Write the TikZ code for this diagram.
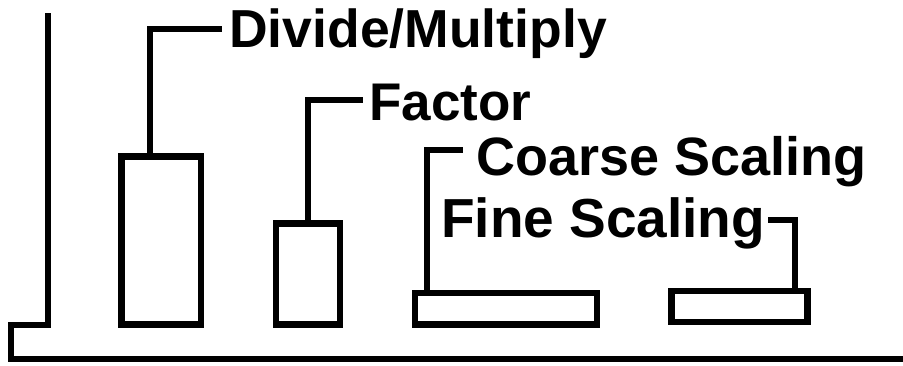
\documentclass[tikz,border=0pt]{standalone}
\usepackage{fontspec}
\setmainfont{Liberation Sans}
\begin{document}
\begin{tikzpicture}[x=1pt,y=-1pt,
  thick line/.style={line width=6.5pt, draw=black},
  bar/.style={rectangle, line width=6.5pt, draw=black, fill=white, inner sep=0pt, outer sep=0pt},
  lab/.style={font=\bfseries\fontsize{53}{60}\selectfont, inner sep=0pt, anchor=base west}]
\useasboundingbox (0,0) rectangle (903,365);
\fill[white] (0,0) rectangle (903,365);
% axes
\coordinate (axtop) at (48,13);
\coordinate (axcorner) at (11,325);
\coordinate (axright) at (903,359);
\draw[thick line] (axtop) |- (axcorner) |- (axright);
% bars
\node[bar, minimum width=79.5pt, minimum height=168pt] (b1) at (161.25,240.5) {};
\node[bar, minimum width=64pt, minimum height=101pt] (b2) at (308,274.2) {};
\node[bar, minimum width=182pt, minimum height=31.5pt] (b3) at (506,308.75) {};
\node[bar, minimum width=135.7pt, minimum height=31pt] (b4) at (739.5,306.5) {};
% labels
\node[lab, font=\bfseries\fontsize{53.5}{60}\selectfont] (dm) at (229,47) {Divide/Multiply};
\node[lab] (fa) at (369,120) {Factor};
\node[lab, font=\bfseries\fontsize{54}{60}\selectfont] (cs) at (476,175) {Coarse Scaling};
\node[lab, font=\bfseries\fontsize{55}{60}\selectfont] (fs) at (441,237) {Fine Scaling};
% leader ends
\coordinate (e1) at (222,29);
\coordinate (e2) at (363,100);
\coordinate (e3) at (463,150);
\coordinate (e4) at (768,220);
% leaders
\draw[thick line] (b1.north -| 150,0) |- (e1);
\draw[thick line] (b2.north -| 308,0) |- (e2);
\draw[thick line] (b3.north -| 427,0) |- (e3);
\draw[thick line] (b4.north -| 795,0) |- (e4);
\end{tikzpicture}
\end{document}
